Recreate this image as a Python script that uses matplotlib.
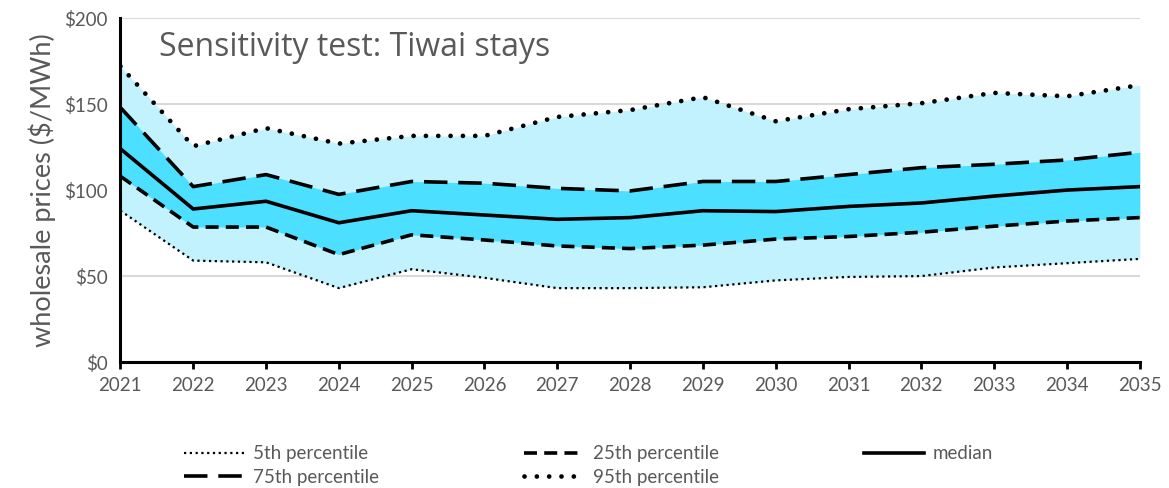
import matplotlib.pyplot as plt
from matplotlib.lines import Line2D

years = list(range(2021, 2036))
p5 = [88, 59, 58, 43, 54, 49, 43, 43, 43.5, 47.5, 49.5, 50, 55, 57.5, 60]
p25 = [108, 78.5, 78.5, 62.5, 74, 71, 67.5, 66, 68, 71.5, 73, 75.5, 79, 82, 84]
median = [124, 89, 93.5, 81, 88, 85.5, 83, 84, 88, 87.5, 90.5, 92.5, 96.5, 100, 102]
p75 = [148, 102, 109, 97.5, 105, 104, 101, 99.5, 105, 105, 109, 113, 115, 117.5, 122]
p95 = [172, 125.5, 136, 127, 131.5, 131.5, 142.5, 146.5, 154, 140, 147, 150.5, 156.5, 154.5, 161]

light = '#c2f2fe'
dark = '#4cdfff'
grey = '#595959'

plt.rcParams['font.family'] = ['Lato', 'DejaVu Sans']

fig = plt.figure(figsize=(11.69, 4.88), dpi=100)
ax = fig.add_axes([0.103, 0.258, 0.872, 0.705])

ax.fill_between(years, p5, p95, color=light, lw=0, zorder=1)
ax.fill_between(years, p25, p75, color=dark, lw=0, zorder=2)

styles = {
    '5th percentile': dict(lw=1.6, dashes=(1, 1.6)),
    '25th percentile': dict(lw=2.6, dashes=(3.6, 2.0)),
    'median': dict(lw=2.6),
    '75th percentile': dict(lw=2.6, dashes=(6.5, 3.0)),
    '95th percentile': dict(lw=3.4, dashes=(0.01, 2.6), dash_capstyle='round'),
}
series = {
    '5th percentile': p5,
    '25th percentile': p25,
    'median': median,
    '75th percentile': p75,
    '95th percentile': p95,
}
for name, vals in series.items():
    ax.plot(years, vals, color='black', zorder=4, **styles[name])

ax.set_xlim(2021, 2035)
ax.set_ylim(0, 200)
ax.set_xticks(years)
ax.set_yticks([0, 50, 100, 150, 200])
ax.set_yticklabels(['$0', '$50', '$100', '$150', '$200'])
ax.grid(axis='y', color='#d9d9d9', lw=1.5, zorder=0)
ax.set_axisbelow(True)

for s in ['top', 'right']:
    ax.spines[s].set_visible(False)
for s in ['left', 'bottom']:
    ax.spines[s].set_linewidth(2.2)
    ax.spines[s].set_zorder(5)
ax.tick_params(axis='x', length=5, width=2, colors='black', labelcolor=grey,
               labelsize=13.5, pad=6)
ax.tick_params(axis='y', length=0, labelcolor=grey, labelsize=13.5, pad=9)

ax.set_ylabel('wholesale prices ($/MWh)', fontsize=19.5, color=grey, labelpad=6)
ax.text(0.038, 0.915, 'Sensitivity test: Tiwai stays', transform=ax.transAxes,
        fontsize=23, color=grey, family=['Open Sans', 'DejaVu Sans'], va='center')

# column-major fill, so interleave to read row by row
order = ['5th percentile', '75th percentile', '25th percentile',
         '95th percentile', 'median']
handles = [Line2D([], [], color='black', **styles[n]) for n in order]
fig.legend(handles, order, loc='lower left', bbox_to_anchor=(0.143, -0.03),
           ncol=3, frameon=False, fontsize=13.5, labelcolor=grey,
           handlelength=3.2, handletextpad=0.5, columnspacing=7.7,
           labelspacing=0.35)

fig.savefig('out.png', dpi=100)
